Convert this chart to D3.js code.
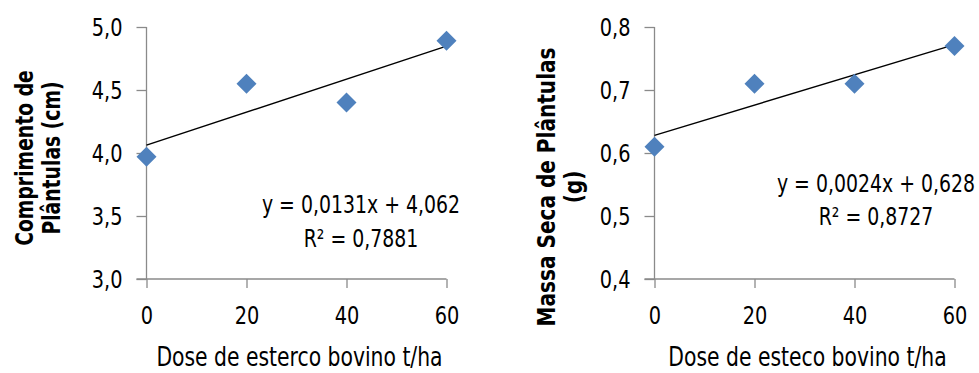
<!DOCTYPE html>
<html>
<head>
<meta charset="utf-8">
<script src="https://cdn.jsdelivr.net/npm/d3@7"></script>
<style>
  body { margin: 0; background: #fff; }
  svg { display: block; }
  text { font-family: "DejaVu Sans Condensed", "DejaVu Sans", sans-serif; fill: #000; }
</style>
</head>
<body>
<svg width="979" height="373"></svg>
<script>
const doses = [0, 20, 40, 60];
const xTicks = [0, 20, 40, 60];

const comprimento = [3.97, 4.55, 4.40, 4.89];
const comprimentoTicks = [3.0, 3.5, 4.0, 4.5, 5.0];
const comprimentoFit = [0.0131, 4.062];   // slope, intercept
const comprimentoEq = ["y = 0,0131x + 4,062", "R² = 0,7881"];

const massa = [0.61, 0.71, 0.71, 0.77];
const massaTicks = [0.4, 0.5, 0.6, 0.7, 0.8];
const massaFit = [0.0024, 0.628];
const massaEq = ["y = 0,0024x + 0,628", "R² = 0,8727"];

const svg = d3.select("svg");
const fmt = d => d.toFixed(1).replace(".", ",");
const AXIS = "#8a8a8a";

// narrow the (too wide) condensed font horizontally, keeping anchors in place
function squeeze(sel, sx) {
  sel.each(function () {
    const t = d3.select(this);
    const x = +(t.attr("x") || 0);
    const tr = t.attr("transform") || "";
    t.attr("x", x / sx).attr("transform", `${tr} scale(${sx},1)`);
  });
}

function panel(opt) {
  const g = svg.append("g");
  const x = d3.scaleLinear().domain([0, 60]).range([opt.left, opt.left + 300]);
  const y = d3.scaleLinear().domain(opt.domain).range([279, 27]);

  const ya = g.append("g").attr("transform", `translate(${opt.left},0)`)
    .call(d3.axisLeft(y).tickValues(opt.ticks).tickFormat(fmt).tickSize(10).tickPadding(14));
  const xa = g.append("g").attr("transform", "translate(0,279)")
    .call(d3.axisBottom(x).tickValues(xTicks).tickSize(9).tickPadding(18));
  [ya, xa].forEach(a => {
    a.select(".domain").remove();
    a.selectAll("line").attr("stroke", AXIS).attr("stroke-width", 1.3);
    a.selectAll("text").attr("font-size", 25).attr("fill", "#000");
    squeeze(a.selectAll("text"), 0.86);
  });
  g.append("line").attr("x1", opt.left).attr("x2", opt.left).attr("y1", 27).attr("y2", 279)
    .attr("stroke", AXIS).attr("stroke-width", 1.3);
  g.append("line").attr("x1", opt.left - 10).attr("x2", opt.left + 300).attr("y1", 279).attr("y2", 279)
    .attr("stroke", AXIS).attr("stroke-width", 1.3);

  // linear trendline
  const [m, b] = opt.fit;
  g.append("line")
    .attr("x1", x(0)).attr("y1", y(b))
    .attr("x2", x(60)).attr("y2", y(m * 60 + b))
    .attr("stroke", "#000").attr("stroke-width", 1.4);

  g.selectAll("path.pt").data(opt.values).join("path")
    .attr("class", "pt")
    .attr("d", d3.symbol(d3.symbolSquare, 200))
    .attr("transform", (d, i) => `translate(${x(doses[i])},${y(d)}) rotate(45)`)
    .attr("fill", "#4f81bd");

  // equation + R²
  const eq = g.append("g");
  eq.append("text").attr("x", opt.eqX).attr("y", opt.eqY).text(opt.eq[0]);
  eq.append("text").attr("x", opt.eqX).attr("y", opt.eqY + opt.eqGap).text(opt.eq[1]);
  eq.selectAll("text").attr("text-anchor", "middle").attr("font-size", 25);
  squeeze(eq.selectAll("text"), 0.84);

  const xt = g.append("text").attr("x", opt.left + 153).attr("y", 366)
    .attr("text-anchor", "middle").attr("font-size", 26).text(opt.xTitle);
  squeeze(xt, 0.87);

  const yt = g.append("text")
    .attr("text-anchor", "middle").attr("font-size", 24).attr("font-weight", "bold");
  opt.yTitle.forEach((t, i) => yt.append("tspan").attr("x", 0).attr("dy", i ? 27 : 0).text(t));
  yt.attr("transform", `translate(${opt.yTitleX},${opt.yTitleY}) rotate(-90) scale(${opt.yTitleSx},1)`);
}

panel({
  left: 146.5, domain: [3, 5], ticks: comprimentoTicks, values: comprimento,
  fit: comprimentoFit, eq: comprimentoEq, eqX: 361, eqY: 213, eqGap: 34,
  xTitle: "Dose de esterco bovino t/ha",
  yTitle: ["Comprimento de", "Plântulas (cm)"], yTitleX: 33, yTitleY: 158, yTitleSx: 0.87
});
panel({
  left: 654.5, domain: [0.4, 0.8], ticks: massaTicks, values: massa,
  fit: massaFit, eq: massaEq, eqX: 876, eqY: 192, eqGap: 33,
  xTitle: "Dose de esteco bovino t/ha",
  yTitle: ["Massa Seca de Plântulas", "(g)"], yTitleX: 555, yTitleY: 187, yTitleSx: 0.93
});
</script>
</body>
</html>
